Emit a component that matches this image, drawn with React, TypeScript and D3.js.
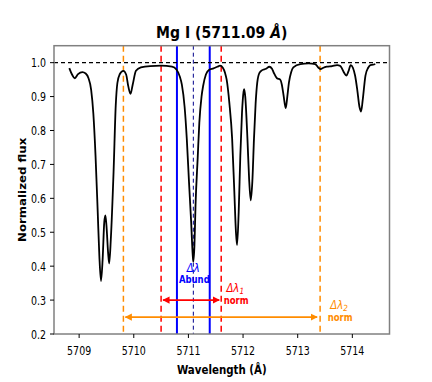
import React from "react";
import * as d3 from "d3";

// spectrum
const wave = [
  5708.82, 5708.87, 5708.92, 5708.98, 5709.06, 5709.12, 5709.17, 5709.22, 5709.26, 5709.3,
  5709.34, 5709.37, 5709.4, 5709.43, 5709.46, 5709.48, 5709.5, 5709.53, 5709.55, 5709.58,
  5709.63, 5709.67, 5709.7, 5709.74, 5709.81, 5709.86, 5709.9, 5709.94, 5709.98, 5710.04,
  5710.13, 5710.3, 5710.5, 5710.7, 5710.78, 5710.84, 5710.88, 5710.93, 5710.97, 5711.01,
  5711.05, 5711.08, 5711.09, 5711.11, 5711.13, 5711.17, 5711.2, 5711.24, 5711.27, 5711.32,
  5711.38, 5711.46, 5711.53, 5711.58, 5711.63, 5711.67, 5711.7, 5711.75, 5711.8, 5711.84,
  5711.87, 5711.89, 5711.92, 5711.95, 5711.98, 5712.01, 5712.02, 5712.04, 5712.08, 5712.11,
  5712.14, 5712.17, 5712.2, 5712.23, 5712.26, 5712.3, 5712.35, 5712.42, 5712.48, 5712.53,
  5712.56, 5712.62, 5712.68, 5712.71, 5712.74, 5712.78, 5712.81, 5712.84, 5712.88, 5712.92,
  5713.05, 5713.2, 5713.32, 5713.38, 5713.42, 5713.47, 5713.53, 5713.63, 5713.72, 5713.78,
  5713.81, 5713.85, 5713.89, 5713.93, 5713.97, 5714.01, 5714.05, 5714.09, 5714.13, 5714.16,
  5714.19, 5714.24, 5714.29, 5714.33, 5714.38, 5714.42,
];
const flux = [
  0.984, 0.965, 0.954, 0.966, 0.972, 0.968, 0.955, 0.92, 0.85, 0.726,
  0.56, 0.43, 0.356, 0.42, 0.53, 0.55, 0.52, 0.44, 0.408, 0.48,
  0.677, 0.874, 0.94, 0.965, 0.976, 0.965, 0.93, 0.908, 0.935, 0.976,
  0.986, 0.99, 0.991, 0.988, 0.98, 0.96, 0.935, 0.87, 0.776, 0.65,
  0.53, 0.43, 0.413, 0.46, 0.579, 0.72, 0.824, 0.9, 0.932, 0.965,
  0.979, 0.983, 0.988, 0.991, 0.985, 0.97, 0.95, 0.88, 0.776, 0.62,
  0.5, 0.462, 0.56, 0.726, 0.85, 0.915, 0.922, 0.9, 0.776, 0.66,
  0.594, 0.65, 0.776, 0.88, 0.942, 0.97, 0.978, 0.982, 0.988, 0.982,
  0.971, 0.954, 0.95, 0.935, 0.905, 0.866, 0.9, 0.942, 0.972, 0.986,
  0.996, 0.998, 0.996, 0.985, 0.981, 0.985, 0.988, 0.99, 0.993, 0.99,
  0.983, 0.97, 0.962, 0.975, 0.993, 0.985, 0.962, 0.92, 0.87, 0.856,
  0.89, 0.962, 0.985, 0.993, 0.994, 0.996,
];

const lineCenter = 5711.09;
const abundWindow = [5710.79, 5711.39];
const norm1Window = [5710.5, 5711.6];
const norm2Window = [5709.81, 5713.41];
const xTicks = [5709, 5710, 5711, 5712, 5713, 5714];
const yTicks = [0.2, 0.3, 0.4, 0.5, 0.6, 0.7, 0.8, 0.9, 1.0];

const W = 432;
const H = 382;
const left = 54;
const right = 389.5;
const top = 45.7;
const bottom = 334;

const ORANGE = "#ff8c00";
const FONT = "DejaVu Sans";

export default function App() {
  const x = d3.scaleLinear().domain([5708.54, 5714.68]).range([left, right]);
  const y = d3.scaleLinear().domain([0.2, 1.05]).range([bottom, top]);

  const line = d3
    .line<number>()
    .x((_, i) => x(wave[i]))
    .y((d) => y(d))
    .curve(d3.curveMonotoneX);

  const vline = (v: number, color: string, width: number, dash?: string) => (
    <line
      x1={x(v)}
      x2={x(v)}
      y1={top}
      y2={bottom}
      stroke={color}
      strokeWidth={width}
      strokeDasharray={dash}
    />
  );

  return (
    <svg
      width={W}
      height={H}
      style={{ position: "absolute", left: 0, top: 0, background: "#fff" }}
      fontFamily={FONT}
    >
      <defs>
        <marker id="headR" viewBox="0 0 10 10" refX="9" refY="5" markerWidth="4" markerHeight="4" orient="auto-start-reverse">
          <path d="M0,0 L10,5 L0,10 z" fill="red" />
        </marker>
        <marker id="headO" viewBox="0 0 10 10" refX="9" refY="5" markerWidth="4" markerHeight="4" orient="auto-start-reverse">
          <path d="M0,0 L10,5 L0,10 z" fill={ORANGE} />
        </marker>
      </defs>

      {/* title */}
      <text
        transform={`translate(${(left + right) / 2},38) scale(0.85,1)`}
        textAnchor="middle"
        fontSize={16.5}
        fontWeight="bold"
      >
        Mg I (5711.09 <tspan fontStyle="italic">Å</tspan>)
      </text>

      {/* window lines */}
      {norm2Window.map((v) => (
        <g key={"o" + v}>{vline(v, ORANGE, 1.5, "6,4")}</g>
      ))}
      {norm1Window.map((v) => (
        <g key={"r" + v}>{vline(v, "red", 1.5, "6,4")}</g>
      ))}
      {abundWindow.map((v) => (
        <g key={"b" + v}>{vline(v, "blue", 2)}</g>
      ))}
      {vline(lineCenter, "darkblue", 1, "4,3")}

      {/* continuum */}
      <line x1={left} x2={right} y1={y(1)} y2={y(1)} stroke="#000" strokeWidth={1.2} strokeDasharray="4,3" />

      {/* spectrum */}
      <path d={line(flux) ?? ""} fill="none" stroke="#000" strokeWidth={1.8} />

      {/* arrows */}
      <line
        x1={x(norm1Window[0]) + 2}
        x2={x(norm1Window[1]) - 2}
        y1={y(0.3)}
        y2={y(0.3)}
        stroke="red"
        strokeWidth={1.8}
        markerStart="url(#headR)"
        markerEnd="url(#headR)"
      />
      <line
        x1={x(norm2Window[0]) + 2}
        x2={x(norm2Window[1]) - 3}
        y1={y(0.25)}
        y2={y(0.25)}
        stroke={ORANGE}
        strokeWidth={1.8}
        markerStart="url(#headO)"
        markerEnd="url(#headO)"
      />

      {/* annotations */}
      <g fill="blue" textAnchor="middle">
        <text transform={`translate(${x(lineCenter)},271.5) scale(0.85,1)`} fontSize={12} fontStyle="italic">
          Δλ
        </text>
        <text transform={`translate(${x(lineCenter) + 1},283) scale(0.85,1)`} fontSize={10} fontWeight="bold">
          Abund
        </text>
      </g>
      <g fill="red" textAnchor="middle">
        <text transform={`translate(${x(norm1Window[1]) + 14},292) scale(0.85,1)`} fontSize={12} fontStyle="italic">
          Δλ<tspan fontSize={8.5} dy={2}>1</tspan>
        </text>
        <text transform={`translate(${x(norm1Window[1]) + 15},304) scale(0.85,1)`} fontSize={10} fontWeight="bold">
          norm
        </text>
      </g>
      <g fill={ORANGE} textAnchor="middle">
        <text transform={`translate(${x(norm2Window[1]) + 19},308.5) scale(0.85,1)`} fontSize={12} fontStyle="italic">
          Δλ<tspan fontSize={8.5} dy={2}>2</tspan>
        </text>
        <text transform={`translate(${x(norm2Window[1]) + 20},320.5) scale(0.85,1)`} fontSize={10} fontWeight="bold">
          norm
        </text>
      </g>

      {/* frame */}
      <rect x={left} y={top} width={right - left} height={bottom - top} fill="none" stroke="#808080" strokeWidth={1.5} />

      {/* x axis */}
      {xTicks.map((t) => (
        <g key={t}>
          <line x1={x(t)} x2={x(t)} y1={bottom} y2={bottom + 4} stroke="#000" strokeWidth={1} />
          <text transform={`translate(${x(t)},354.5) scale(0.74,1)`} textAnchor="middle" fontSize={12.8}>
            {t}
          </text>
        </g>
      ))}
      <text transform={`translate(${(left + right) / 2},374) scale(0.87,1)`} textAnchor="middle" fontSize={11.8} fontWeight="bold">
        Wavelength (Å)
      </text>

      {/* y axis */}
      {yTicks.map((t) => (
        <g key={t}>
          <line x1={left - 4} x2={left} y1={y(t)} y2={y(t)} stroke="#000" strokeWidth={1} />
          <text transform={`translate(${left - 8},${y(t) + 4.6}) scale(0.74,1)`} textAnchor="end" fontSize={12.8}>
            {t.toFixed(1)}
          </text>
        </g>
      ))}
      <text
        transform={`translate(26,${(top + bottom) / 2}) rotate(-90) scale(1,0.9)`}
        textAnchor="middle"
        fontSize={11.8}
        fontWeight="bold"
      >
        Normalized flux
      </text>
    </svg>
  );
}
